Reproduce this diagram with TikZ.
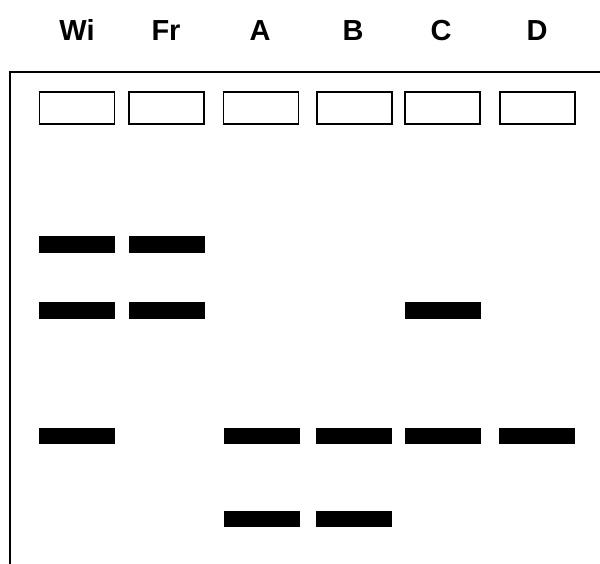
\documentclass[tikz,border=0pt]{standalone}
\usepackage{fontspec}
\setmainfont{Liberation Sans}
\begin{document}
\begin{tikzpicture}[x=1pt,y=-1pt,
  lbl/.style={font=\fontsize{29}{32}\selectfont\bfseries, anchor=base},
  well/.style={draw=black, line width=1.3pt, fill=white, minimum width=75pt, minimum height=32pt, inner sep=0pt},
  band/.style={fill=black, minimum width=76pt, minimum height=16.5pt, inner sep=0pt},
  frame/.style={line width=2pt}]
\useasboundingbox (0,0) rectangle (600,564);
% frame
\coordinate (tl) at (10,72);
\coordinate (tr) at (601,72);
\coordinate (bl) at (10,565);
\draw[frame] (tr) -- (tl) -- (bl);
% labels
\foreach \n/\x/\t in {wi/77/Wi, fr/166/Fr, a/260/A, b/353/B, c/441/C, d/537/D}
  \node[lbl] (l\n) at (\x,41) {\t};
% wells
\foreach \n/\x in {wi/77, fr/166.5, a/261, b/354.5, c/442.5, d/537.5}
  \node[well] (w\n) at (\x,108) {};
% bands
\node[band] (b1wi) at (77,244.5) {};
\node[band] (b1fr) at (166.5,244.5) {};
\node[band] (b2wi) at (77,310.5) {};
\node[band] (b2fr) at (166.5,310.5) {};
\node[band] (b2c) at (443,310.5) {};
\node[band] (b3wi) at (77,436) {};
\node[band] (b3a) at (262,436) {};
\node[band] (b3b) at (354,436) {};
\node[band] (b3c) at (443,436) {};
\node[band] (b3d) at (537,436) {};
\node[band] (b4a) at (262,519) {};
\node[band] (b4b) at (354,519) {};
\end{tikzpicture}
\end{document}
